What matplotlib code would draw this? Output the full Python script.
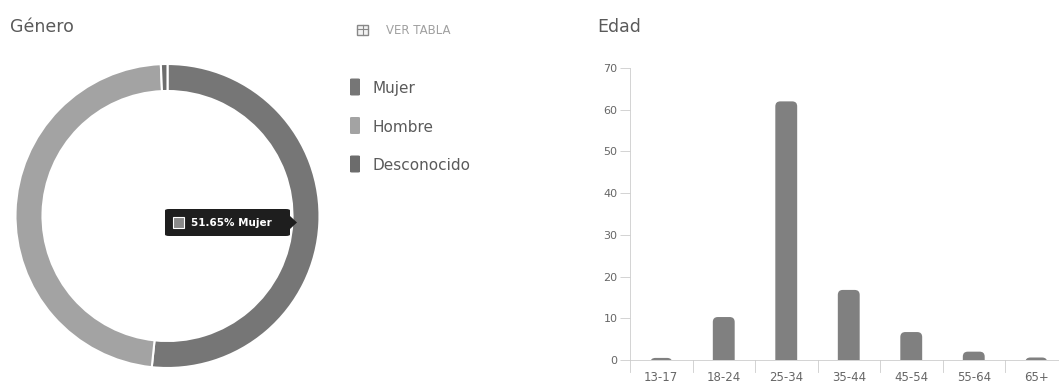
import matplotlib.pyplot as plt
from matplotlib.patches import FancyBboxPatch, Rectangle, Polygon

# datos
genero = ["Mujer", "Hombre", "Desconocido"]
genero_pct = [51.65, 47.65, 0.7]
genero_colores = ["#767676", "#a3a3a3", "#6c6c6c"]

edades = ["13-17", "18-24", "25-34", "35-44", "45-54", "55-64", "65+"]
edad_vals = [0.5, 10.3, 62, 16.8, 6.7, 2, 0.6]
y_ticks = [0, 10, 20, 30, 40, 50, 60, 70]

W, H = 1059, 387
fig = plt.figure(figsize=(W / 100, H / 100), dpi=100)
plt.rcParams['font.family'] = ['DejaVu Sans']

def fx(px):
    return px / W

def fy(py):
    return 1 - py / H

# titulos
fig.text(fx(10), fy(32), "Género", fontsize=12.5, color="#5a5a5a", va="baseline")
fig.text(fx(597), fy(32), "Edad", fontsize=12.5, color="#5a5a5a", va="baseline")
fig.text(fx(386), fy(30), "VER TABLA", fontsize=8.5, color="#a0a0a0", va="center")
# icono tabla
fig.patches.append(Rectangle((fx(357), fy(35)), fx(11), 10 / H, transform=fig.transFigure,
                             facecolor="#f2f2f2", edgecolor="#888888", lw=1))
fig.lines.append(plt.Line2D([fx(357), fx(368)], [fy(28.5), fy(28.5)], transform=fig.transFigure, color="#888888", lw=0.8))
fig.lines.append(plt.Line2D([fx(362.5), fx(362.5)], [fy(25), fy(35)], transform=fig.transFigure, color="#888888", lw=0.8))

# dona
r = 152
cx, cy = 167.5, 216
ax1 = fig.add_axes([fx(cx - r), fy(cy + r), fx(2 * r), 2 * r / H])
ax1.pie(genero_pct, colors=genero_colores, startangle=90, counterclock=False,
        wedgeprops=dict(width=27 / r, edgecolor="white", linewidth=1.5))
ax1.set_xlim(-1, 1)
ax1.set_ylim(-1, 1)
ax1.axis("off")

# leyenda
for i, (g, c) in enumerate(zip(genero, genero_colores)):
    y = 87 + i * 38.5
    fig.patches.append(FancyBboxPatch((fx(350), fy(y + 8.5)), fx(10), 17 / H,
                                      boxstyle="round,pad=0,rounding_size=0.002",
                                      transform=fig.transFigure, facecolor=c, edgecolor="none"))
    fig.text(fx(373), fy(y), g, fontsize=11, color="#5a5a5a", va="center_baseline")

# tooltip
fig.patches.append(FancyBboxPatch((fx(165), fy(236)), fx(125), 27 / H,
                                  boxstyle="round,pad=0,rounding_size=0.004",
                                  transform=fig.transFigure, facecolor="#1e1e1e", edgecolor="none"))
fig.patches.append(Polygon([(fx(290), fy(216)), (fx(297), fy(222.5)), (fx(290), fy(229))],
                           transform=fig.transFigure, facecolor="#1e1e1e", edgecolor="none"))
fig.patches.append(Rectangle((fx(173), fy(228)), fx(11), 11 / H, transform=fig.transFigure,
                             facecolor="#8a8a8a", edgecolor="white", lw=0.8))
fig.text(fx(191), fy(222.5), "%.2f%% %s" % (genero_pct[0], genero[0]), fontsize=7.5,
         color="white", va="center_baseline", fontweight="bold")

# barras edad
x0, x1 = 630, 630 + 62.5 * 7
ax2 = fig.add_axes([fx(x0), fy(360), fx(x1 - x0), (360 - 68) / H])
ax2.set_xlim(-0.5, len(edades) - 0.5)
ax2.set_ylim(0, 70)
bars = ax2.bar(range(len(edades)), edad_vals, width=0.35, color="#808080")
# barras con esquinas redondeadas arriba
aspect = (70 / 292) / (7 / 437.5)
for b in bars:
    b.set_visible(False)
    rad = 0.08
    p = FancyBboxPatch((b.get_x(), -3), b.get_width(), b.get_height() + 3,
                       boxstyle="round,pad=0,rounding_size=%f" % rad,
                       mutation_aspect=aspect, facecolor="#808080", edgecolor="none")
    p.set_clip_path(ax2.patch)
    ax2.add_patch(p)
ax2.set_yticks(y_ticks)
ax2.set_xticks(range(len(edades)))
ax2.set_xticklabels(edades)
ax2.tick_params(axis="y", labelsize=8, colors="#666666", length=7, width=0.6, color="#cccccc", pad=2)
ax2.tick_params(axis="x", labelsize=8.5, colors="#666666", length=0, pad=8)
for i in range(len(edades)):
    ax2.plot([i - 0.5, i - 0.5], [0, -2.8], color="#cccccc", lw=0.6, clip_on=False)
for s in ["top", "right"]:
    ax2.spines[s].set_visible(False)
for s in ["left", "bottom"]:
    ax2.spines[s].set_color("#cccccc")
    ax2.spines[s].set_linewidth(0.6)
ax2.spines["left"].set_bounds(0, 70)

fig.savefig("out.png", dpi=100)
